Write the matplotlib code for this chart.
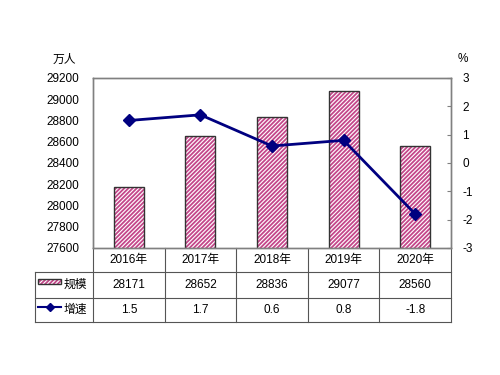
import matplotlib
matplotlib.use('Agg')
import matplotlib.pyplot as plt
import matplotlib.transforms as mtransforms
from matplotlib.patches import Rectangle

plt.rcParams['font.family'] = ['Liberation Sans', 'Noto Sans CJK SC', 'DejaVu Sans']
plt.rcParams['hatch.linewidth'] = 1.3

years = ['2016年', '2017年', '2018年', '2019年', '2020年']
scale = [28171, 28652, 28836, 29077, 28560]
growth = [1.5, 1.7, 0.6, 0.8, -1.8]
growth_labels = ['1.5', '1.7', '0.6', '0.8', '-1.8']
left_ticks = [27600, 27800, 28000, 28200, 28400, 28600, 28800, 29000, 29200]
right_ticks = [-3, -2, -1, 0, 1, 2, 3]

pink = '#C4478A'
navy = '#000080'
grid_c = '#808080'
fs = 8.5

fig = plt.figure(figsize=(5, 3.75), dpi=100)
ax = fig.add_axes([0.186, 0.3387, 0.716, 0.4533])
x = list(range(len(years)))

# bars: hatched fill, then dark outline
ax.bar(x, scale, width=0.42, color='white', edgecolor=pink, hatch='////////', linewidth=0)
ax.bar(x, scale, width=0.42, fill=False, edgecolor='#333333', linewidth=1)
ax.set_xlim(-0.5, 4.5)
ax.set_ylim(27600, 29200)
ax.set_yticks(left_ticks)
ax.set_yticklabels([str(v) for v in left_ticks], fontsize=fs)
ax.set_xticks([])
ax.tick_params(axis='y', length=0, pad=10)
for s in ax.spines.values():
    s.set_color(grid_c)
    s.set_linewidth(1)

ax2 = ax.twinx()
ax2.plot(x, growth, color=navy, linewidth=2, marker='D', markersize=6.5)
ax2.set_ylim(-3, 3)
ax2.set_yticks(right_ticks)
ax2.set_yticklabels([str(v) for v in right_ticks], fontsize=fs)
ax2.tick_params(axis='y', direction='in', length=3, color=grid_c, pad=8)
for s in ax2.spines.values():
    s.set_color(grid_c)
    s.set_linewidth(1)

fig.text(0.128, 0.825, '万人', fontsize=fs, ha='center', va='bottom')
fig.text(0.925, 0.828, '%', fontsize=fs, ha='center', va='bottom')

# data table below the axes
trans = mtransforms.blended_transform_factory(ax.transData, ax.transAxes)
y_rows = [0, -0.141, -0.294, -0.435]
x_left = -1.31
lc = '#555555'
lw = 0.8
ax.plot([x_left, 4.5], [y_rows[1]] * 2, transform=trans, clip_on=False, color=lc, lw=lw)
ax.plot([x_left, 4.5], [y_rows[2]] * 2, transform=trans, clip_on=False, color=lc, lw=lw)
ax.plot([x_left, 4.5], [y_rows[3]] * 2, transform=trans, clip_on=False, color=lc, lw=lw)
ax.plot([x_left, x_left], [y_rows[1], y_rows[3]], transform=trans, clip_on=False, color=lc, lw=lw)
for b in [i - 0.5 for i in range(len(years) + 1)]:
    ax.plot([b, b], [y_rows[0], y_rows[3]], transform=trans, clip_on=False, color=lc, lw=lw)

for i in x:
    ax.text(i, (y_rows[0] + y_rows[1]) / 2, years[i], transform=trans, ha='center', va='center', fontsize=fs)
    ax.text(i, (y_rows[1] + y_rows[2]) / 2, str(scale[i]), transform=trans, ha='center', va='center', fontsize=fs)
    ax.text(i, (y_rows[2] + y_rows[3]) / 2, growth_labels[i], transform=trans, ha='center', va='center', fontsize=fs)

# legend keys inside the row label cells
ym1 = (y_rows[1] + y_rows[2]) / 2
ym2 = (y_rows[2] + y_rows[3]) / 2
ax.add_patch(Rectangle((-1.27, ym1 + 0.005), 0.33, 0.03, transform=trans, clip_on=False,
                       facecolor='white', edgecolor=pink, hatch='////////', linewidth=0))
ax.add_patch(Rectangle((-1.27, ym1 + 0.005), 0.33, 0.03, transform=trans, clip_on=False,
                       fill=False, edgecolor='#333333', linewidth=1))
ax.text(-0.91, ym1, '规模', transform=trans, ha='left', va='center', fontsize=fs)
ax.plot([-1.27, -0.94], [ym2 + 0.015] * 2, transform=trans, clip_on=False, color=navy, lw=1.5)
ax.plot([-1.105], [ym2 + 0.015], transform=trans, clip_on=False, color=navy, marker='D', markersize=4)
ax.text(-0.91, ym2, '增速', transform=trans, ha='left', va='center', fontsize=fs)

fig.savefig('out.png', dpi=100)
